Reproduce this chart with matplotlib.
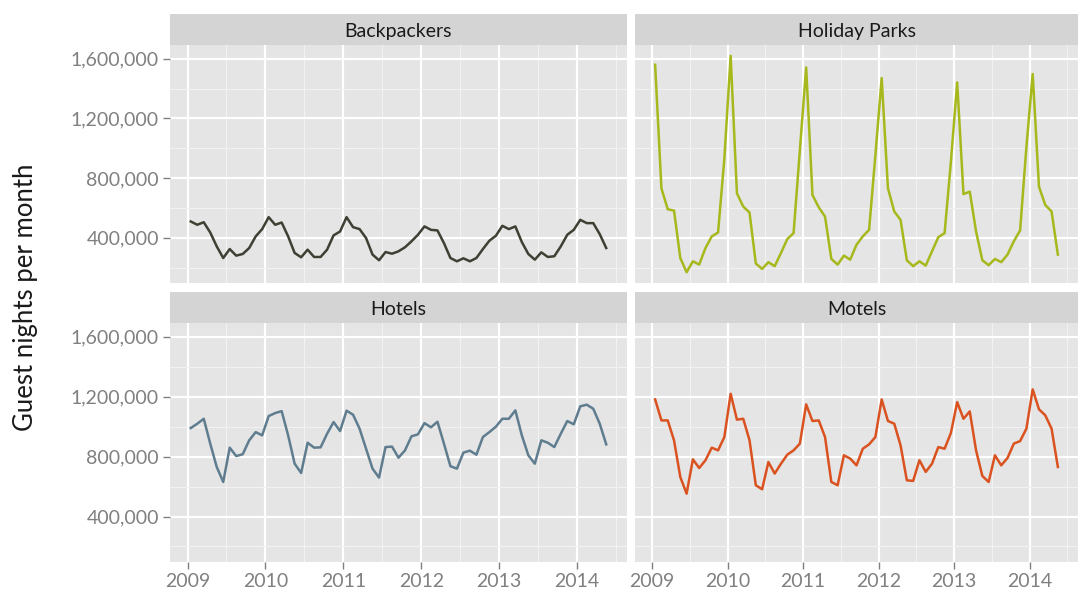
import numpy as np
import matplotlib
matplotlib.use("Agg")
import matplotlib.pyplot as plt
from matplotlib.ticker import FuncFormatter, MultipleLocator

plt.rcParams['font.family'] = ['Lato', 'DejaVu Sans']

# monthly guest nights (thousands), Jan 2009 - May 2014
backpackers = [509, 487, 504, 435, 342, 264, 324, 280, 291, 331, 409, 458,
               538, 487, 502, 409, 298, 269, 320, 271, 271, 320, 416, 442,
               538, 471, 458, 398, 287, 249, 304, 293, 309, 336, 376, 420,
               476, 453, 449, 364, 264, 242, 262, 242, 264, 324, 380, 413,
               480, 458, 476, 371, 291, 253, 302, 271, 276, 342, 420, 453,
               520, 498, 498, 424, 331]
holiday_parks = [1560, 731, 591, 582, 264, 169, 242, 220, 331, 409, 435, 931,
                 1620, 698, 609, 569, 227, 191, 236, 209, 298, 391, 431, 987,
                 1542, 687, 604, 542, 258, 220, 280, 253, 353, 409, 453, 953,
                 1471, 731, 576, 520, 249, 209, 242, 213, 309, 404, 431, 909,
                 1442, 693, 709, 442, 249, 216, 258, 236, 287, 376, 449, 1009,
                 1498, 742, 620, 576, 287]
hotels = [991, 1020, 1053, 887, 731, 631, 860, 804, 816, 909, 964, 942,
          1071, 1091, 1104, 942, 753, 691, 893, 860, 862, 953, 1031, 971,
          1107, 1080, 987, 853, 720, 660, 864, 867, 793, 842, 936, 949,
          1024, 996, 1033, 887, 736, 720, 827, 840, 813, 931, 964, 1000,
          1053, 1053, 1109, 942, 809, 753, 909, 893, 864, 953, 1038, 1016,
          1136, 1147, 1120, 1020, 882]
motels = [1182, 1042, 1042, 909, 664, 553, 782, 724, 776, 860, 842, 931,
          1220, 1047, 1053, 909, 609, 582, 764, 687, 753, 813, 842, 887,
          1149, 1038, 1042, 931, 631, 609, 809, 787, 742, 853, 882, 931,
          1182, 1038, 1020, 876, 642, 638, 776, 698, 753, 864, 853, 958,
          1164, 1053, 1102, 842, 671, 631, 809, 742, 791, 887, 904, 987,
          1249, 1116, 1076, 987, 731]

titles = ["Backpackers", "Holiday Parks", "Hotels", "Motels"]
series = [backpackers, holiday_parks, hotels, motels]
colors = ["#3f4034", "#a7b81c", "#5f7d8f", "#d9521f"]
years = [2009, 2010, 2011, 2012, 2013, 2014]

months = np.arange(len(backpackers))
x = 2009 + (months + 0.5) / 12

W, H = 1080, 594
fig = plt.figure(figsize=(W / 100, H / 100), dpi=100)

# panel boxes in pixels: left, top, right, bottom
boxes = [(170, 45, 627, 283), (635, 45, 1078, 283),
         (170, 323, 627, 562), (635, 323, 1078, 562)]
strip_h = 31

allv = np.concatenate([np.array(s) for s in series]) * 1000
ymin, ymax = allv.min(), allv.max()
ypad = (ymax - ymin) * 0.05
xpad = (x.max() - x.min()) * 0.05

for k, (l, t, r, b) in enumerate(boxes):
    ax = fig.add_axes([l / W, (H - b) / H, (r - l) / W, (b - t) / H])
    ax.set_facecolor("#e5e5e5")
    ax.plot(x, np.array(series[k]) * 1000, color=colors[k], lw=1.8)
    ax.set_xlim(x.min() - xpad, x.max() + xpad)
    ax.set_ylim(ymin - ypad, ymax + ypad)
    ax.set_xticks(years)
    ax.xaxis.set_minor_locator(MultipleLocator(0.5))
    ax.set_yticks([400000, 800000, 1200000, 1600000])
    ax.yaxis.set_minor_locator(MultipleLocator(200000))
    ax.grid(which="major", color="white", lw=1.6)
    ax.grid(which="minor", color="#f2f2f2", lw=0.8)
    ax.set_axisbelow(True)
    for s in ax.spines.values():
        s.set_visible(False)
    ax.tick_params(which="minor", length=0)
    ax.tick_params(which="major", length=5, width=1, color="#808080",
                   labelcolor="#808080", labelsize=14, pad=3)
    ax.yaxis.set_major_formatter(FuncFormatter(lambda v, p: f"{int(v):,}"))
    if k % 2 == 1:
        ax.tick_params(axis="y", left=False, labelleft=False)
    if k < 2:
        ax.tick_params(axis="x", bottom=False, labelbottom=False)

    sax = fig.add_axes([l / W, (H - t) / H, (r - l) / W, strip_h / H])
    sax.set_facecolor("#d4d4d4")
    sax.set_xticks([])
    sax.set_yticks([])
    for s in sax.spines.values():
        s.set_visible(False)
    sax.text(0.5, 0.45, titles[k], ha="center", va="center", fontsize=14,
             color="#1a1a1a", transform=sax.transAxes)

fig.text(26 / W, 0.5, "Guest nights per month", rotation=90, ha="center",
         va="center", fontsize=18.5, color="#1a1a1a")

fig.savefig("out.png", dpi=100)
